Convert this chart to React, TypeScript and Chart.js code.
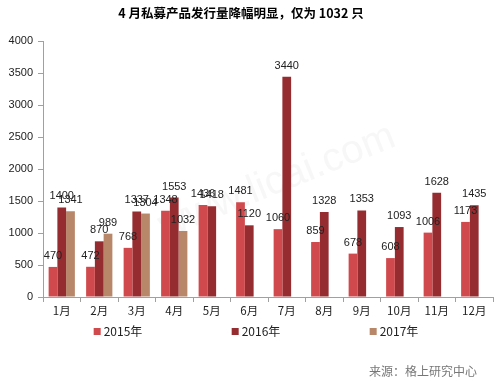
import React, { useEffect, useRef } from "react";
import { Chart, registerables } from "chart.js";

Chart.register(...registerables);

const categories = ["1月", "2月", "3月", "4月", "5月", "6月", "7月", "8月", "9月", "10月", "11月", "12月"];
const series2015 = [470, 472, 768, 1348, 1436, 1481, 1060, 859, 678, 608, 1006, 1173];
const series2016 = [1400, 870, 1337, 1553, 1418, 1120, 3440, 1328, 1353, 1093, 1628, 1435];
const series2017: (number | null)[] = [1341, 989, 1304, 1032, null, null, null, null, null, null, null, null];
const seriesNames = ["2015年", "2016年", "2017年"];
const seriesColors = ["#d0494c", "#952c30", "#b8876a"];
const titleText = "4 月私募产品发行量降幅明显，仅为 1032 只";
const sourceText = "来源：格上研究中心";
const watermarkText = "www.licai.com";

const extrasPlugin = {
  id: "extras",
  beforeDatasetsDraw(chart: any) {
    const ctx = chart.ctx;
    const area = chart.chartArea;
    ctx.save();
    ctx.translate(area.left + (area.right - area.left) * 0.52, area.top + (area.bottom - area.top) * 0.55);
    ctx.rotate(-0.38);
    ctx.font = "40px 'Liberation Sans', Arial, sans-serif";
    ctx.fillStyle = "rgba(200,200,200,0.14)";
    ctx.textAlign = "center";
    ctx.textBaseline = "middle";
    ctx.fillText(watermarkText, 0, 0);
    ctx.restore();
  },
  afterDatasetsDraw(chart: any) {
    const ctx = chart.ctx;
    ctx.save();
    ctx.font = "11px 'Liberation Sans', Arial, sans-serif";
    ctx.fillStyle = "#222";
    ctx.textAlign = "center";
    ctx.textBaseline = "middle";
    chart.data.datasets.forEach((ds: any, i: number) => {
      const meta = chart.getDatasetMeta(i);
      meta.data.forEach((bar: any, j: number) => {
        const v = ds.data[j];
        if (v === null || v === undefined) return;
        ctx.fillText(String(v), bar.x, bar.y - 11);
      });
    });
    ctx.restore();
  },
  afterDraw(chart: any) {
    const ctx = chart.ctx;
    ctx.save();
    ctx.font = "bold 12.5px 'Noto Sans CJK SC', serif";
    ctx.fillStyle = "#000";
    ctx.textAlign = "center";
    ctx.textBaseline = "middle";
    ctx.fillText(titleText, 241, 13);
    const centers = [118, 256, 394];
    ctx.font = "12px 'Noto Sans CJK SC', sans-serif";
    ctx.textAlign = "left";
    seriesNames.forEach((name, i) => {
      const w = ctx.measureText(name).width;
      const total = 7 + 3 + w;
      const x0 = centers[i] - total / 2;
      ctx.fillStyle = seriesColors[i];
      ctx.fillRect(x0, 328, 7, 7);
      ctx.fillStyle = "#222";
      ctx.fillText(name, x0 + 10, 331.5);
    });
    ctx.font = "12px 'Noto Sans CJK SC', sans-serif";
    ctx.fillStyle = "#777";
    ctx.textAlign = "right";
    ctx.fillText(sourceText, 477, 371);
    ctx.restore();
  },
};

export default function App() {
  const ref = useRef<HTMLCanvasElement>(null);
  useEffect(() => {
    if (!ref.current) return;
    const chart = new Chart(ref.current, {
      type: "bar",
      data: {
        labels: categories,
        datasets: [
          { label: seriesNames[0], data: series2015, backgroundColor: seriesColors[0] },
          { label: seriesNames[1], data: series2016, backgroundColor: seriesColors[1] },
          { label: seriesNames[2], data: series2017, backgroundColor: seriesColors[2] },
        ],
      },
      options: {
        responsive: false,
        animation: false,
        layout: { padding: { left: 0, top: 41, right: 7, bottom: 0 } },
        datasets: { bar: { categoryPercentage: 0.7, barPercentage: 1.0 } },
        plugins: { legend: { display: false }, tooltip: { enabled: false }, title: { display: false } },
        scales: {
          x: {
            grid: { drawOnChartArea: false, offset: true, tickLength: 5, color: "#a0a0a0" },
            border: { color: "#a0a0a0" },
            ticks: { font: { size: 11.5, family: "'Noto Sans CJK SC', sans-serif" }, color: "#222", padding: 2, maxRotation: 0 },
            afterFit: (s: any) => { s.height = 84; },
          },
          y: {
            min: 0,
            max: 4000,
            grid: { drawOnChartArea: false, tickLength: 5, color: "#a0a0a0" },
            border: { color: "#a0a0a0" },
            ticks: {
              stepSize: 500,
              font: { size: 11, family: "'Liberation Sans', Arial, sans-serif" },
              color: "#222",
              padding: 5,
              callback: (v: any) => String(v),
            },
            afterFit: (s: any) => { s.width = 43; },
          },
        },
      },
      plugins: [extrasPlugin],
    });
    return () => chart.destroy();
  }, []);
  return (
    <div style={{ position: "fixed", left: 0, top: 0, width: 500, height: 381, background: "#fff" }}>
      <canvas ref={ref} width={500} height={381} style={{ width: 500, height: 381 }} />
    </div>
  );
}
